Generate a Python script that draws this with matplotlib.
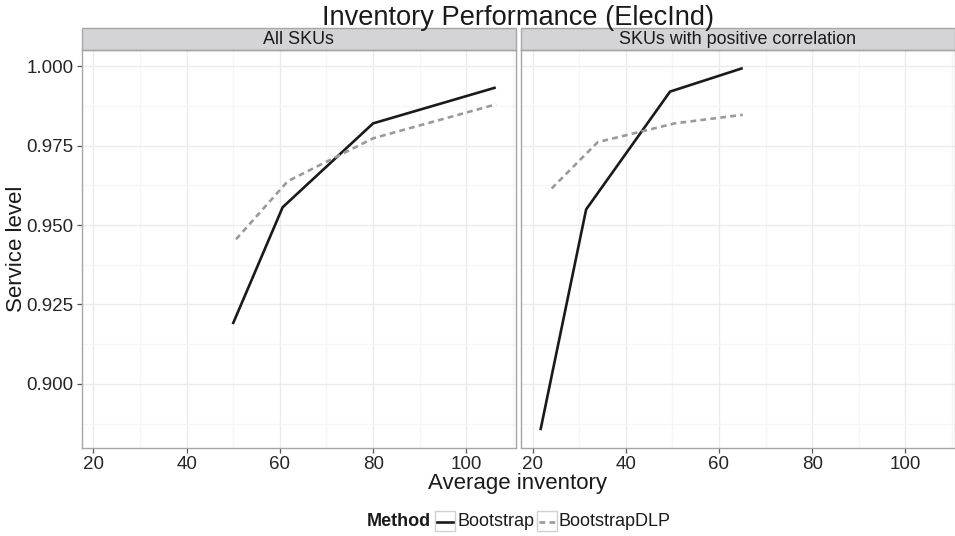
import matplotlib
matplotlib.use("Agg")
import matplotlib.pyplot as plt
from matplotlib.patches import Rectangle
from matplotlib.lines import Line2D
import numpy as np

plt.rcParams['font.family'] = ['Liberation Sans', 'DejaVu Sans']

# ---- data ----
panels = ["All SKUs", "SKUs with positive correlation"]
methods = ["Bootstrap", "BootstrapDLP"]

all_boot_x = [49.9, 60.6, 80.0, 106.3]
all_boot_y = [0.9188, 0.9556, 0.9820, 0.9933]
all_dlp_x = [50.6, 61.7, 80.0, 106.4]
all_dlp_y = [0.9455, 0.9638, 0.9773, 0.9880]

pos_boot_x = [21.7, 31.5, 49.5, 65.1]
pos_boot_y = [0.8854, 0.9549, 0.9920, 0.9994]
pos_dlp_x = [24.1, 34.0, 50.5, 65.1]
pos_dlp_y = [0.9615, 0.9761, 0.9820, 0.9847]

x_ticks = [20, 40, 60, 80, 100]
y_ticks = [0.900, 0.925, 0.950, 0.975, 1.000]

series = [
    {"Bootstrap": (all_boot_x, all_boot_y), "BootstrapDLP": (all_dlp_x, all_dlp_y)},
    {"Bootstrap": (pos_boot_x, pos_boot_y), "BootstrapDLP": (pos_dlp_x, pos_dlp_y)},
]

styles = {
    "Bootstrap": dict(color="#1a1a1a", linestyle="-"),
    "BootstrapDLP": dict(color="#9a9a9a", linestyle=(0, (2.2, 1.6))),
}

W, H = 955, 536
fig = plt.figure(figsize=(W / 100, H / 100), dpi=100)

# shared limits with 5% padding like a faceted plot
all_x = all_boot_x + all_dlp_x + pos_boot_x + pos_dlp_x
all_y = all_boot_y + all_dlp_y + pos_boot_y + pos_dlp_y
xr = max(all_x) - min(all_x)
yr = max(all_y) - min(all_y)
xlim = (min(all_x) - 0.05 * xr, max(all_x) + 0.05 * xr)
ylim = (min(all_y) - 0.05 * yr, max(all_y) + 0.05 * yr)

bottom_px, top_px = 448.3, 50.0
ax_h = (bottom_px - top_px) / H
ax_b = (H - bottom_px) / H
lefts = [81.5, 520.7]
rights = [516.0, 955.0]
strip_px = 22.0

border_col = "#a6a6a6"
axes = []
for i, name in enumerate(panels):
    ax = fig.add_axes([lefts[i] / W, ax_b, (rights[i] - lefts[i]) / W, ax_h])
    axes.append(ax)
    ax.set_xlim(xlim)
    ax.set_ylim(ylim)
    ax.set_xticks(x_ticks)
    ax.set_xticks([30, 50, 70, 90, 110], minor=True)
    ax.set_yticks(y_ticks)
    ax.set_yticks([0.8875, 0.9125, 0.9375, 0.9625, 0.9875], minor=True)
    ax.grid(which="major", color="#ebebeb", linewidth=1.0)
    ax.grid(which="minor", color="#f6f6f6", linewidth=1.0)
    ax.set_axisbelow(True)
    for s in ax.spines.values():
        s.set_color(border_col)
        s.set_linewidth(1.0)
    ax.tick_params(which="major", length=3.5, width=0.9, color="#555555",
                   labelsize=13.5, labelcolor="#262626", pad=2)
    ax.tick_params(which="minor", length=0)
    ax.set_xticklabels([str(t) for t in x_ticks])
    if i == 0:
        ax.set_yticklabels([f"{t:.3f}" for t in y_ticks])
    else:
        ax.tick_params(axis="y", which="both", left=False, labelleft=False)

    for m in methods:
        xs, ys = series[i][m]
        ax.plot(xs, ys, linewidth=1.9, solid_capstyle="butt",
                dash_capstyle="butt", **styles[m])

    # facet strip
    sh = strip_px / (bottom_px - top_px)
    ax.add_patch(Rectangle((0, 1), 1, sh, transform=ax.transAxes,
                           facecolor="#d4d4d6", edgecolor=border_col,
                           linewidth=1.0, clip_on=False))
    ax.text(0.5, 1 + sh / 2, name, transform=ax.transAxes, ha="center",
            va="center", fontsize=12.9, color="#1a1a1a")

fig.text(518 / W, 1 - 25 / H, "Inventory Performance (ElecInd)", ha="center",
         va="baseline", fontsize=19.6, color="#1a1a1a")
fig.text(518 / W, 1 - 489.5 / H, "Average inventory", ha="center",
         va="baseline", fontsize=16, color="#1a1a1a")
fig.text(16.5 / W, 1 - 249 / H, "Service level", ha="center", va="center",
         rotation=90, fontsize=16, color="#1a1a1a")

# legend
ly = 1 - 521.5 / H
fig.text(366.5 / W, ly, "Method", ha="left", va="center", fontsize=13,
         fontweight="bold", color="#1a1a1a")
key_x = [435.0, 536.5]
label_x = [457.0, 559.0]
for m, kx, lx in zip(methods, key_x, label_x):
    fig.add_artist(Rectangle((kx / W, 1 - 531 / H), 20 / W, 20 / H,
                             transform=fig.transFigure, facecolor="white",
                             edgecolor="#d0d0d0", linewidth=1.0))
    fig.add_artist(Line2D([(kx + 2) / W, (kx + 18) / W], [ly, ly],
                          transform=fig.transFigure, linewidth=1.9,
                          **styles[m]))
    fig.text(lx / W, ly, m, ha="left", va="center", fontsize=13,
             color="#1a1a1a")

fig.savefig("out.png", dpi=100)
